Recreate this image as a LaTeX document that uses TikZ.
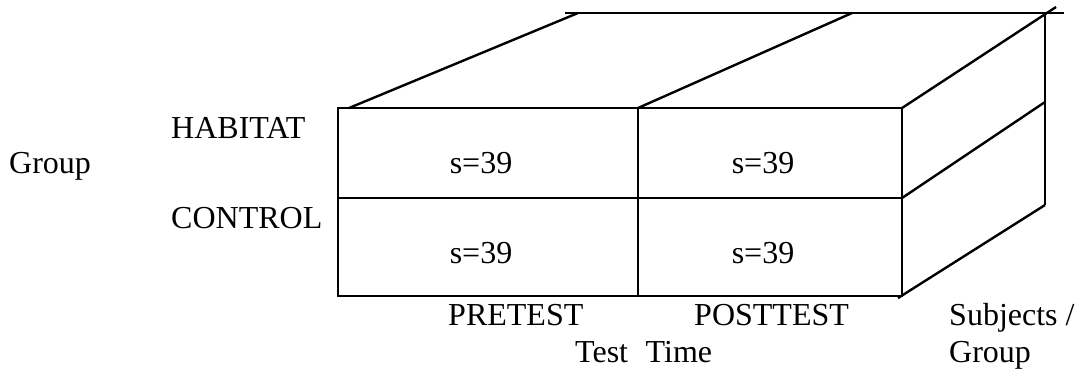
\documentclass[tikz,border=0pt]{standalone}
\usepackage{fontspec}
\setmainfont{Liberation Serif}
\usepackage{tikz}

\tikzset{
  lbl/.style={anchor=base west,inner sep=0pt,font=\fontsize{12}{14}\selectfont},
  cell/.style={anchor=base,inner sep=0pt,font=\fontsize{12}{14}\selectfont}
}

\begin{document}
\begin{tikzpicture}[x=0.375pt,y=-0.375pt,line width=0.9pt]
    \useasboundingbox (0,0) rectangle (1085,371);

    \begin{scope}
      % front face
      \draw
        (338,108) rectangle (902,296);
      \draw
        (338,198) -- (902,198);
      \draw
        (638,108) -- (638,296);

      % top face
      \draw
        (565,13) -- (1064,13);
      \draw
        (349,108) -- (578,13);
      \draw
        (638,108) -- (852,13);

      % right face
      \draw
        (902,108) -- (1056,7);
      \draw
        (1045,13) -- (1045,205);
      \draw
        (902,198) -- (1045,102);
      \draw
        (898,298) -- (1045,205);
    \end{scope}

    \node[lbl] (group) at (8,173) {Group};
    \node[lbl] (habitat) at (170,138) {HABITAT};
    \node[lbl] (control) at (170,228) {CONTROL};

    \node[cell] (hpre) at (481,173) {s=39};
    \node[cell] (hpost) at (763,173) {s=39};
    \node[cell] (cpre) at (481,263) {s=39};
    \node[cell] (cpost) at (763,263) {s=39};

    \node[lbl] (pretest) at (447,325) {PRETEST};
    \node[lbl] (posttest) at (693,325) {POSTTEST};
    \node[lbl] (testtime) at (574,362) {Test\hspace{0.55em}Time};
    \node[lbl] (subjects) at (948,325) {Subjects /};
    \node[lbl] (subgroup) at (948,362) {Group};
  \end{tikzpicture}
\end{document}
